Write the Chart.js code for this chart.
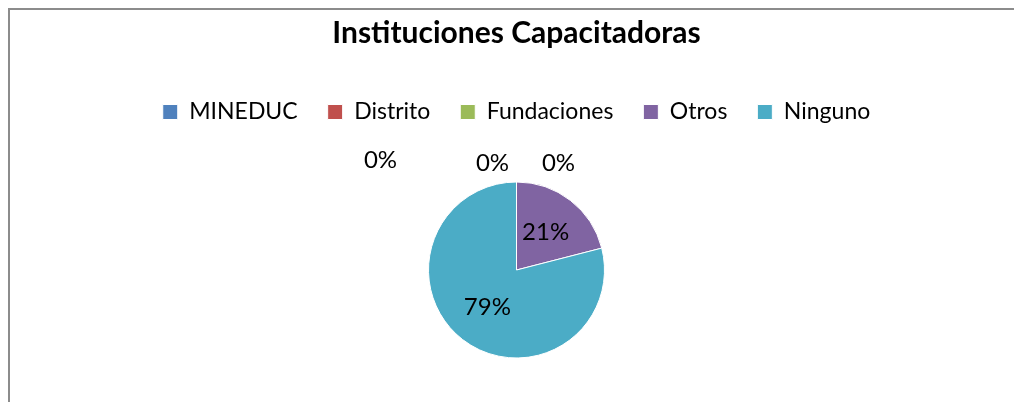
<html>
<head>
    <title>Instituciones Capacitadoras</title>
    <style>
        body {
            margin: 0;
            padding: 0;
            background-color: #ffffff;
            overflow: hidden;
            font-family: Lato, sans-serif;
        }
        .frame {
            position: absolute;
            left: 8px;
            top: 8px;
            width: 1030px;
            height: 430px;
            border: 2px solid #8c8c8c;
        }
        .chart-box {
            position: relative;
            width: 1013px;
            height: 420px;
        }
    </style>
</head>
<body>
    <div class="frame">
        <div class="chart-box">
            <canvas id="pieChart"></canvas>
        </div>
    </div>
    <script src="https://cdn.jsdelivr.net/npm/chart.js"></script>
    <script>
        const categories = ['MINEDUC', 'Distrito', 'Fundaciones', 'Otros', 'Ninguno'];
        const values = [0, 0, 0, 21, 79];
        const sliceColors = ['#4f81bd', '#c0504d', '#9bbb59', '#8064a2', '#4bacc6'];

        // where Excel parked the labels of the empty slices (relative to pie centre, px)
        const zeroLabelOffsets = [[-136, -110], [-24, -107], [42, -107]];

        const percentLabels = {
            id: 'percentLabels',
            afterDatasetsDraw(chart) {
                const ctx = chart.ctx;
                const meta = chart.getDatasetMeta(0);
                const total = values.reduce((a, b) => a + b, 0);
                let zeroIdx = 0;
                ctx.save();
                ctx.font = '24px Lato';
                ctx.fillStyle = '#000000';
                ctx.textAlign = 'center';
                ctx.textBaseline = 'middle';
                meta.data.forEach((arc, i) => {
                    const v = values[i];
                    const text = Math.round(v / total * 100) + '%';
                    let x, y;
                    if (v === 0) {
                        const off = zeroLabelOffsets[zeroIdx++];
                        x = arc.x + off[0];
                        y = arc.y + off[1];
                    } else {
                        const mid = (arc.startAngle + arc.endAngle) / 2;
                        const r = arc.outerRadius * 0.54;
                        x = arc.x + Math.cos(mid) * r;
                        y = arc.y + Math.sin(mid) * r;
                    }
                    ctx.fillText(text, x, y);
                });
                ctx.restore();
            }
        };

        const ctx = document.getElementById('pieChart').getContext('2d');
        new Chart(ctx, {
            type: 'pie',
            data: {
                labels: categories,
                datasets: [{
                    data: values,
                    backgroundColor: sliceColors,
                    borderColor: '#ffffff',
                    borderWidth: 1
                }]
            },
            options: {
                responsive: true,
                maintainAspectRatio: false,
                animation: false,
                radius: 88,
                layout: {
                    padding: { bottom: 23.5 }
                },
                plugins: {
                    title: {
                        display: true,
                        text: 'Instituciones Capacitadoras',
                        color: '#000000',
                        font: { family: 'Lato', size: 30, weight: 'bold' },
                        padding: { top: 5, bottom: 19.5 }
                    },
                    legend: {
                        position: 'top',
                        labels: {
                            color: '#000000',
                            font: { family: 'Lato', size: 23 },
                            boxWidth: 15,
                            boxHeight: 15,
                            padding: 30
                        }
                    },
                    tooltip: { enabled: false }
                }
            },
            plugins: [percentLabels]
        });
    </script>
</body>
</html>
